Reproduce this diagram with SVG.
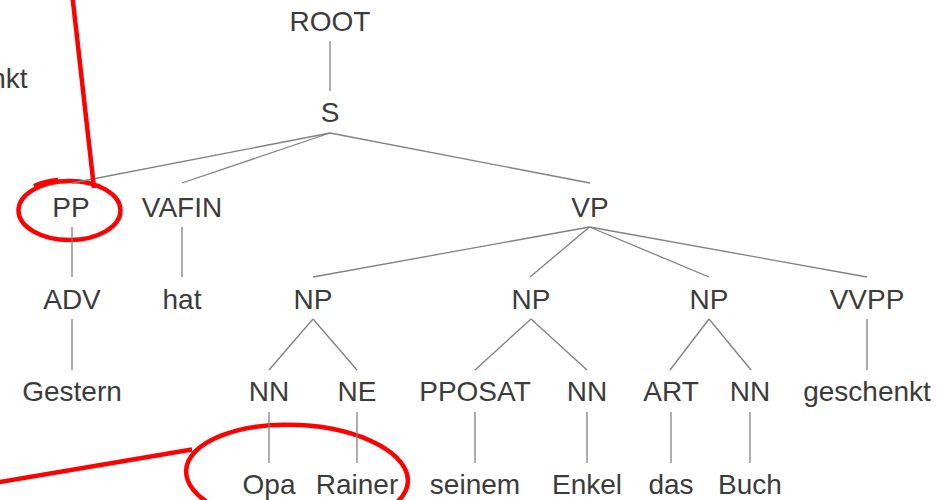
<svg xmlns="http://www.w3.org/2000/svg" width="946" height="500" viewBox="0 0 946 500">
  <style>
    .lbl { font-family: "Liberation Sans", Arial, sans-serif; font-size: 28px; fill: #3b3b3b; text-anchor: middle; }
    .edge { stroke: #808080; stroke-width: 1.3; fill: none; stroke-linecap: butt; }
    .mark { stroke: #ff0000; stroke-width: 4.5; fill: none; stroke-linecap: butt; }
  </style>
  <rect width="946" height="500" fill="#ffffff"/>

  <!-- highlight ellipses (drawn beneath the tree) -->
  <g id="highlights">
    <ellipse class="mark" cx="69.5" cy="210.5" rx="51" ry="29.5"/>
    <path class="mark" d="M 34 186 Q 46 181 58 180"/>
    <ellipse class="mark" cx="297" cy="476" rx="111" ry="51" transform="rotate(3 297 476)"/>
  </g>

  <!-- tree edges -->
  <g id="connectors">
    <line class="edge" x1="330" y1="41" x2="330" y2="91"/>
    <line class="edge" x1="330" y1="133" x2="72" y2="183"/>
    <line class="edge" x1="330" y1="133" x2="182" y2="183"/>
    <line class="edge" x1="330" y1="133" x2="590" y2="183"/>
    <line class="edge" x1="72" y1="227" x2="72" y2="277"/>
    <line class="edge" x1="182" y1="227" x2="182" y2="277"/>
    <line class="edge" x1="589.5" y1="227" x2="313" y2="277"/>
    <line class="edge" x1="589.5" y1="227" x2="530" y2="277"/>
    <line class="edge" x1="589.5" y1="227" x2="709" y2="277"/>
    <line class="edge" x1="589.5" y1="227" x2="867" y2="277"/>
    <line class="edge" x1="72" y1="319" x2="72" y2="370"/>
    <line class="edge" x1="313" y1="319" x2="269" y2="370"/>
    <line class="edge" x1="313" y1="319" x2="357" y2="370"/>
    <line class="edge" x1="531" y1="319" x2="475" y2="370"/>
    <line class="edge" x1="531" y1="319" x2="587" y2="370"/>
    <line class="edge" x1="709" y1="319" x2="670" y2="370"/>
    <line class="edge" x1="709" y1="319" x2="751" y2="370"/>
    <line class="edge" x1="867" y1="319" x2="867" y2="370"/>
    <line class="edge" x1="269" y1="412" x2="269" y2="463"/>
    <line class="edge" x1="357" y1="412" x2="357" y2="463"/>
    <line class="edge" x1="475" y1="412" x2="475" y2="463"/>
    <line class="edge" x1="587" y1="412" x2="587" y2="463"/>
    <line class="edge" x1="671" y1="412" x2="671" y2="463"/>
    <line class="edge" x1="750" y1="412" x2="750" y2="463"/>
  </g>

  <!-- nodes -->
  <g id="n-root"><text class="lbl" x="330" y="31">ROOT</text></g>
  <g id="n-s"><text class="lbl" x="330" y="122">S</text></g>
  <g id="n-pp"><text class="lbl" x="71" y="217">PP</text></g>
  <g id="n-vafin"><text class="lbl" x="182" y="217">VAFIN</text></g>
  <g id="n-vp"><text class="lbl" x="590" y="217">VP</text></g>
  <g id="n-adv"><text class="lbl" x="72" y="309">ADV</text></g>
  <g id="n-hat"><text class="lbl" x="182" y="309">hat</text></g>
  <g id="n-np1"><text class="lbl" x="313" y="309">NP</text></g>
  <g id="n-np2"><text class="lbl" x="531" y="309">NP</text></g>
  <g id="n-np3"><text class="lbl" x="709" y="309">NP</text></g>
  <g id="n-vvpp"><text class="lbl" x="867" y="309">VVPP</text></g>
  <g id="n-gestern"><text class="lbl" x="72" y="401">Gestern</text></g>
  <g id="n-nn1"><text class="lbl" x="269" y="401">NN</text></g>
  <g id="n-ne"><text class="lbl" x="357" y="401">NE</text></g>
  <g id="n-pposat"><text class="lbl" x="475" y="401">PPOSAT</text></g>
  <g id="n-nn2"><text class="lbl" x="587" y="401">NN</text></g>
  <g id="n-art"><text class="lbl" x="671" y="401">ART</text></g>
  <g id="n-nn3"><text class="lbl" x="750" y="401">NN</text></g>
  <g id="n-geschenkt"><text class="lbl" x="867" y="401">geschenkt</text></g>
  <g id="n-opa"><text class="lbl" x="269" y="494">Opa</text></g>
  <g id="n-rainer"><text class="lbl" x="357" y="494">Rainer</text></g>
  <g id="n-seinem"><text class="lbl" x="475" y="494">seinem</text></g>
  <g id="n-enkel"><text class="lbl" x="587" y="494">Enkel</text></g>
  <g id="n-das"><text class="lbl" x="671" y="494">das</text></g>
  <g id="n-buch"><text class="lbl" x="750" y="494">Buch</text></g>

  <!-- word fragment at the left margin -->
  <text class="lbl" x="27.5" y="88" style="text-anchor:end">nkt</text>

  <!-- pointer strokes -->
  <g id="pointers">
    <line class="mark" x1="72.5" y1="-3" x2="94" y2="188"/>
    <line class="mark" x1="-3" y1="482.5" x2="192" y2="449.5"/>
  </g>
</svg>
